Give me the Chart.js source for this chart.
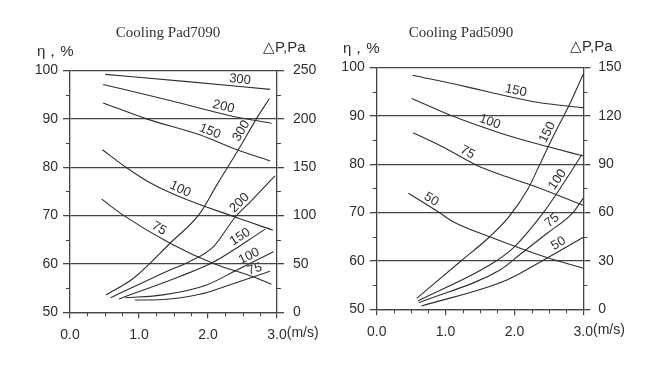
<!DOCTYPE html>
<html><head><meta charset="utf-8">
<script src="https://cdn.jsdelivr.net/npm/chart.js@4"></script>
<style>
html,body{margin:0;padding:0;background:#fff;}
.wrap{display:flex;width:670px;height:366px;}
.box{width:335px;height:366px;}
</style>
</head><body>
<div class="wrap"><div class="box"><canvas id="c1" width="335" height="366"></canvas></div><div class="box"><canvas id="c2" width="335" height="366"></canvas></div></div>
<script>
// ---- shared axes ----
const xTickValues = [0, 1, 2, 3];
const xUnit = "(m/s)";
const effAxisLabel = "η，%";
const dpAxisLabel = "△P,Pa";

// ---- Cooling Pad7090 ----
const title7090 = "Cooling Pad7090";
const effNames7090 = ["300", "200", "150", "100", "75"];
const eff7090_300 = [[0.51,99.2],[1.7,97.7],[2.9,96.1]];
const eff7090_200 = [[0.48,97.1],[1.45,93.8],[2.37,90.5],[2.92,89.1]];
const eff7090_150 = [[0.48,93.3],[1.11,90.0],[1.88,86.7],[2.42,83.6],[2.9,81.3]];
const eff7090_100 = [[0.47,83.6],[0.82,79.9],[1.16,76.8],[1.59,73.9],[2.37,69.8],[2.94,67.0]];
const eff7090_75  = [[0.46,73.4],[0.77,70.1],[1.45,64.3],[2.08,60.1],[2.66,57.3],[2.92,55.8]];
const effLabelX7090 = [2.455, 2.2, 1.99, 1.555, 1.24];
const dpNames7090 = ["300", "200", "150", "100", "75"];
const dp7090_300 = [[0.52,17.9],[0.92,35.2],[1.45,71.4],[1.88,102],[2.13,132],[2.44,168],[2.71,201],[2.89,221]];
const dp7090_200 = [[0.59,15.1],[1.45,43.8],[1.69,51],[2.08,68],[2.39,98],[2.61,114],[2.97,141]];
const dp7090_150 = [[0.71,13.8],[1.59,37],[2.08,52],[2.83,86]];
const dp7090_100 = [[0.80,15],[1.35,18],[1.98,28.3],[2.42,43.8],[2.95,62.7]];
const dp7090_75  = [[0.94,12.7],[1.3,13],[1.88,18.6],[2.32,28.5],[2.9,42.5]];
const dpLabelX7090 = [2.57, 2.53, 2.52, 2.64, 2.71];
const dpMax7090 = 250, dpStep7090 = 50;

// ---- Cooling Pad5090 ----
const title5090 = "Cooling Pad5090";
const effNames5090 = ["150", "100", "75", "50"];
const eff5090_150 = [[0.52,98.4],[1.31,96.0],[1.79,94.4],[2.37,92.7],[3.0,91.7]];
const eff5090_100 = [[0.51,93.6],[1.11,89.9],[1.89,86.0],[2.52,83.5],[3.0,81.7]];
const eff5090_75  = [[0.53,86.5],[0.97,83.5],[1.45,79.8],[1.89,77.4],[2.30,75.4],[3.0,71.5]];
const eff5090_50  = [[0.46,74.0],[0.92,69.9],[1.11,68.1],[1.64,65.0],[2.47,60.7],[3.0,58.5]];
const effLabelX5090 = [2.0, 1.61, 1.27, 0.74];
const dpNames5090 = ["150", "100", "75", "50"];
const dp5090_150 = [[0.58,6.8],[1.21,29.5],[1.64,45],[1.93,58],[2.20,75],[2.37,90],[2.56,107],[2.81,128],[3.0,146]];
const dp5090_100 = [[0.60,5.3],[1.64,27.5],[1.98,38],[2.42,60],[2.71,78],[2.98,96]];
const dp5090_75  = [[0.61,4.1],[1.79,24.4],[2.08,34],[2.47,47],[2.85,60],[3.0,69]];
const dp5090_50  = [[0.65,2.0],[1.89,18.2],[2.47,31.7],[3.0,44.7]];
const dpLabelX5090 = [2.57, 2.71, 2.61, 2.69];
const dpMax5090 = 150, dpStep5090 = 30;

const effMin = 50, effMax = 100, effStep = 10;

// ---- styling ----
const INK = '#2e2e2e';
const GRID = '#444';
Chart.defaults.font.family = '"Liberation Sans", Arial, sans-serif';
Chart.defaults.font.size = 14;
Chart.defaults.color = INK;

const toPts = arr => arr.map(p => ({x: p[0], y: p[1]}));

const curveLabelPlugin = {
  id: 'curveLabels',
  afterDatasetsDraw(chart, args, o) {
    const ctx = chart.ctx, xs = chart.scales.x;
    chart.data.datasets.forEach(ds => {
      if (ds.labelX == null) return;
      const ys = chart.scales[ds.yAxisID];
      const pts = ds.data;
      let k = 0;
      while (k < pts.length - 2 && pts[k + 1].x < ds.labelX) k++;
      const a = pts[k], b = pts[k + 1];
      const t = (ds.labelX - a.x) / (b.x - a.x);
      const yv = a.y + t * (b.y - a.y);
      const px = xs.getPixelForValue(ds.labelX), py = ys.getPixelForValue(yv);
      const dx = xs.getPixelForValue(b.x) - xs.getPixelForValue(a.x);
      const dy = ys.getPixelForValue(b.y) - ys.getPixelForValue(a.y);
      const len = Math.hypot(dx, dy);
      const nx = dy / len, ny = -dx / len;
      ctx.save();
      ctx.translate(px + nx * o.offset, py + ny * o.offset);
      ctx.rotate(Math.atan2(dy, dx));
      ctx.font = o.font; ctx.fillStyle = INK;
      ctx.textAlign = 'center'; ctx.textBaseline = 'middle';
      ctx.fillText(ds.label, 0, 0);
      ctx.restore();
    });
  }
};

const decorPlugin = {
  id: 'decor',
  afterDraw(chart, args, o) {
    const ctx = chart.ctx, a = chart.chartArea;
    const xs = chart.scales.x, ys = chart.scales.y, y2 = chart.scales.y2;
    ctx.save();
    ctx.strokeStyle = GRID; ctx.lineWidth = 1;
    ctx.beginPath();
    for (let v = xs.min; v <= xs.max + 1e-9; v += 0.25) {
      if (Math.abs(v - Math.round(v)) < 1e-6) continue;
      const p = Math.round(xs.getPixelForValue(v)) + 0.5;
      ctx.moveTo(p, a.bottom); ctx.lineTo(p, a.bottom + 4);
    }
    for (let v = ys.min + effStep / 2; v < ys.max; v += effStep) {
      const p = Math.round(ys.getPixelForValue(v)) + 0.5;
      ctx.moveTo(a.left - 4, p); ctx.lineTo(a.left, p);
    }
    for (let v = y2.min + o.dpStep / 2; v < y2.max; v += o.dpStep) {
      const p = Math.round(y2.getPixelForValue(v)) + 0.5;
      ctx.moveTo(a.right, p); ctx.lineTo(a.right + 4, p);
    }
    ctx.stroke();
    // unit after the last x tick label
    ctx.fillStyle = INK;
    ctx.font = '14px "Liberation Sans", Arial, sans-serif';
    ctx.textBaseline = 'top'; ctx.textAlign = 'left';
    const lastTxt = xs.max.toFixed(1);
    const lx = xs.getPixelForValue(xs.max) + ctx.measureText(lastTxt).width / 2;
    ctx.fillText(xUnit, lx, a.bottom + o.xLabelGap);
    // headers
    ctx.font = '15px "Liberation Serif", "Times New Roman", serif';
    ctx.textAlign = 'center'; ctx.textBaseline = 'middle';
    ctx.fillStyle = '#333';
    ctx.fillText(o.title, o.titleX, o.titleY);
    ctx.font = '15px "Liberation Sans", Arial, sans-serif';
    ctx.textAlign = 'left';
    ctx.fillStyle = INK;
    ctx.fillText(effAxisLabel, o.effLabelX, o.effLabelY);
    ctx.fillText(dpAxisLabel, o.dpLabelX, o.dpLabelY);
    ctx.restore();
  }
};

function makeChart(id, cfg) {
  const datasets = [];
  const lineStyle = { showLine: true, borderColor: INK, borderWidth: 1.1, pointRadius: 0, cubicInterpolationMode: 'monotone', fill: false };
  cfg.effSeries.forEach((s, i) => datasets.push(Object.assign({
    label: cfg.effNames[i], data: toPts(s), yAxisID: 'y', labelX: cfg.effLabelX[i] }, lineStyle)));
  cfg.dpSeries.forEach((s, i) => datasets.push(Object.assign({
    label: cfg.dpNames[i], data: toPts(s), yAxisID: 'y2', labelX: cfg.dpLabelX[i] }, lineStyle)));
  const L = cfg.area;
  return new Chart(document.getElementById(id), {
    type: 'scatter',
    data: { datasets },
    options: {
      responsive: false, animation: false,
      layout: { padding: { top: L.top, left: 0, right: 0, bottom: 0 } },
      plugins: {
        legend: { display: false }, tooltip: { enabled: false },
        curveLabels: { offset: 7, font: '13px "Liberation Sans", Arial, sans-serif' },
        decor: cfg.decor
      },
      scales: {
        x: {
          type: 'linear', min: 0, max: 3,
          afterBuildTicks: s => { s.ticks = xTickValues.map(v => ({ value: v })); },
          ticks: { callback: v => Number(v).toFixed(1), padding: 8, maxRotation: 0, autoSkip: false, font: { size: 14 } },
          grid: { drawOnChartArea: false, tickLength: 6, color: GRID, lineWidth: 1.2 },
          border: { display: true, color: GRID, width: 1.3 },
          afterFit: s => { s.height = 366 - L.bottom; }
        },
        y: {
          type: 'linear', position: 'left', min: effMin, max: effMax,
          ticks: { stepSize: effStep, padding: 5, font: { size: 14 } },
          grid: { color: GRID, lineWidth: 1.3, tickLength: 7 },
          border: { display: true, color: GRID, width: 1.3 },
          afterFit: s => { s.width = L.left; }
        },
        y2: {
          type: 'linear', position: 'right', min: 0, max: cfg.dpMax,
          ticks: { stepSize: cfg.dpStep, padding: L.rpad, font: { size: 14 } },
          grid: { drawOnChartArea: false, color: GRID, lineWidth: 1.3, tickLength: 7 },
          border: { display: true, color: GRID, width: 1.3 },
          afterFit: s => { s.width = 335 - L.right; }
        }
      }
    },
    plugins: [curveLabelPlugin, decorPlugin]
  });
}

makeChart('c1', {
  effSeries: [eff7090_300, eff7090_200, eff7090_150, eff7090_100, eff7090_75],
  effNames: effNames7090, effLabelX: effLabelX7090,
  dpSeries: [dp7090_300, dp7090_200, dp7090_150, dp7090_100, dp7090_75],
  dpNames: dpNames7090, dpLabelX: dpLabelX7090,
  dpMax: dpMax7090, dpStep: dpStep7090,
  area: { left: 70, right: 277, top: 70.5, bottom: 312.3, rpad: 9 },
  decor: { dpStep: dpStep7090, title: title7090, titleX: 168, titleY: 33, effLabelX: 37, effLabelY: 52, dpLabelX: 263, dpLabelY: 48, xLabelGap: 14 }
});
makeChart('c2', {
  effSeries: [eff5090_150, eff5090_100, eff5090_75, eff5090_50],
  effNames: effNames5090, effLabelX: effLabelX5090,
  dpSeries: [dp5090_150, dp5090_100, dp5090_75, dp5090_50],
  dpNames: dpNames5090, dpLabelX: dpLabelX5090,
  dpMax: dpMax5090, dpStep: dpStep5090,
  area: { left: 41.7, right: 248.3, top: 67.5, bottom: 309.3, rpad: 8 },
  decor: { dpStep: dpStep5090, title: title5090, titleX: 126, titleY: 33, effLabelX: 8, effLabelY: 49, dpLabelX: 235, dpLabelY: 47, xLabelGap: 14 }
});
</script>
</body></html>
